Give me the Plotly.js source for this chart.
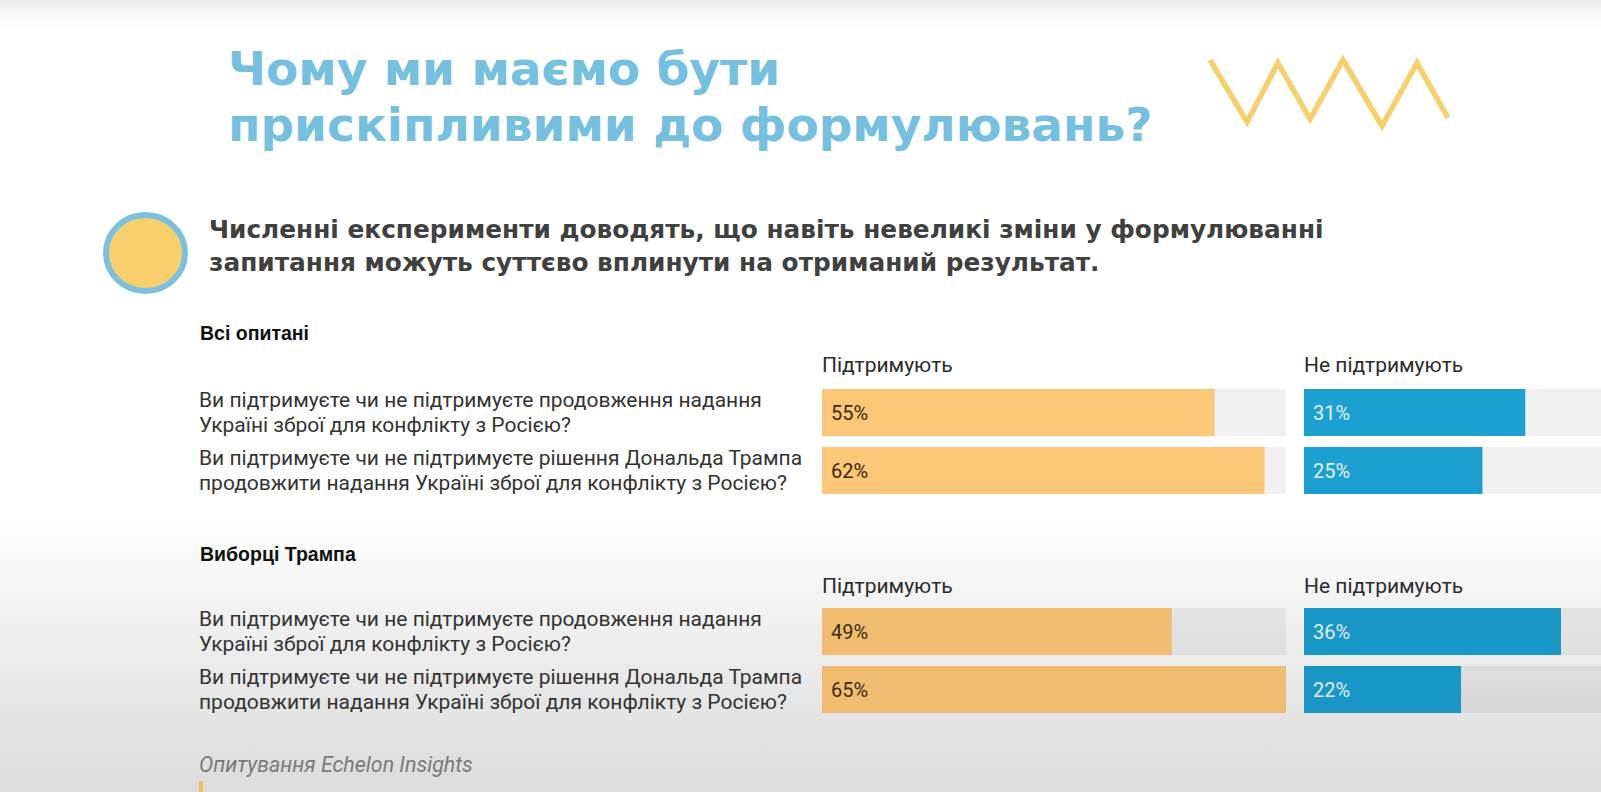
<!DOCTYPE html>
<html>
<head>
<meta charset="utf-8">
<script src="https://cdn.plot.ly/plotly-3.0.1.min.js"></script>
<style>
  html, body { margin: 0; padding: 0; }
  body {
    width: 1601px; height: 792px; overflow: hidden;
    background: linear-gradient(to bottom, #ececec 0px, #fbfbfb 18px, #ffffff 30px, #ffffff 520px, #f3f3f3 600px, #e6e6e6 700px, #dcdcdc 792px);
  }
  #chart { width: 1601px; height: 792px; }
</style>
</head>
<body>
<div id="chart"></div>
<script>
// ---------------- data ----------------
const titleLines = ['Чому ми маємо бути', 'прискіпливими до формулювань?'];
const subtitleLines = ['Численні експерименти доводять, що навіть невеликі зміни у формулюванні',
                       'запитання можуть суттєво вплинути на отриманий результат.'];
const groups = ['Всі опитані', 'Виборці Трампа'];
const seriesNames = ['Підтримують', 'Не підтримують'];
const questionKeys = ['q1', 'q2'];
const questionLines = [
  ['Ви підтримуєте чи не підтримуєте продовження надання', 'Україні зброї для конфлікту з Росією?'],
  ['Ви підтримуєте чи не підтримуєте рішення Дональда Трампа', 'продовжити надання Україні зброї для конфлікту з Росією?']
];
const supportAll = [55, 62];
const opposeAll = [31, 25];
const supportTrump = [49, 65];
const opposeTrump = [36, 22];
const sourceNote = 'Опитування Echelon Insights';

// ---------------- layout helpers ----------------
const W = 1601, H = 792;
const px = v => v / W;
const py = v => 1 - v / H;

const trackMax = Math.max(...supportAll, ...supportTrump, ...opposeAll, ...opposeTrump);
const pxPerPct = (1286 - 822) / trackMax;
const opposeRangeMax = (W - 1304) / pxPerPct;

const orange1 = '#fcc776', orange2 = '#f0bd70';
const blue1 = '#1ba0d1', blue2 = '#1896c6';
const trackColor = 'rgba(0,0,0,0.055)';

function track(xa, ya) {
  return { type: 'bar', orientation: 'h', x: questionKeys.map(() => trackMax), y: questionKeys,
           xaxis: xa, yaxis: ya, marker: { color: trackColor }, hoverinfo: 'skip', showlegend: false };
}
function valueBar(vals, xa, ya, color, name) {
  return { type: 'bar', orientation: 'h', x: vals, y: questionKeys, name: name,
           xaxis: xa, yaxis: ya, marker: { color: color }, hoverinfo: 'skip', showlegend: false };
}

const data = [
  track('x', 'y'),  valueBar(supportAll, 'x', 'y', orange1, seriesNames[0]),
  track('x2', 'y'), valueBar(opposeAll, 'x2', 'y', blue1, seriesNames[1]),
  track('x3', 'y2'), valueBar(supportTrump, 'x3', 'y2', orange2, seriesNames[0]),
  track('x4', 'y2'), valueBar(opposeTrump, 'x4', 'y2', blue2, seriesNames[1])
];

const hid = { visible: false, fixedrange: true };
const supDom = [px(822), px(1286)];
const oppDom = [px(1304), 1];

const annotations = [];
// title
const titleFont = { family: 'DejaVu Sans', size: 47, color: '#74c0de', weight: 700 };
annotations.push({ xref: 'paper', yref: 'paper', x: px(226), y: py(68), xanchor: 'left', yanchor: 'middle',
                   text: titleLines[0], showarrow: false, font: titleFont });
annotations.push({ xref: 'paper', yref: 'paper', x: px(226), y: py(124), xanchor: 'left', yanchor: 'middle',
                   text: titleLines[1], showarrow: false, font: titleFont });
// subtitle
const subFont = { family: 'DejaVu Sans', size: 24.8, color: '#404040', weight: 700 };
annotations.push({ xref: 'paper', yref: 'paper', x: px(207), y: py(229), xanchor: 'left', yanchor: 'middle',
                   text: subtitleLines[0], showarrow: false, font: subFont });
annotations.push({ xref: 'paper', yref: 'paper', x: px(207), y: py(262), xanchor: 'left', yanchor: 'middle',
                   text: subtitleLines[1], showarrow: false, font: subFont });

// groups
const groupCfg = [
  { name: groups[0], headerY: 333, colY: 365, ya: 'y', xs: ['x', 'x2'], sup: supportAll, opp: opposeAll, supTxt: '#3a2a10', oppTxt: '#e4f3fa' },
  { name: groups[1], headerY: 554, colY: 586, ya: 'y2', xs: ['x3', 'x4'], sup: supportTrump, opp: opposeTrump, supTxt: '#3a2a10', oppTxt: '#e0eff6' }
];
groupCfg.forEach(g => {
  annotations.push({ xref: 'paper', yref: 'paper', x: px(198), y: py(g.headerY), xanchor: 'left', yanchor: 'middle',
                     text: g.name, showarrow: false,
                     font: { family: 'Liberation Sans', size: 19.5, color: '#111', weight: 700 } });
  seriesNames.forEach((s, k) => {
    annotations.push({ xref: g.xs[k] + ' domain', yref: 'paper', x: 0, y: py(g.colY), xanchor: 'left', yanchor: 'middle',
                       xshift: -2, text: s, showarrow: false,
                       font: { family: 'Roboto', size: 21, color: '#2b2b2b' } });
  });
  questionKeys.forEach((q, i) => {
    questionLines[i].forEach((line, j) => {
      annotations.push({ xref: 'paper', yref: g.ya, x: px(197), y: q, xanchor: 'left', yanchor: 'middle', align: 'left',
                         yshift: j === 0 ? 12.5 : -12.5,
                         text: line, showarrow: false,
                         font: { family: 'Roboto', size: 21, color: '#333' } });
    });
    annotations.push({ xref: g.xs[0], yref: g.ya, x: 0, y: q, xanchor: 'left', yanchor: 'middle', xshift: 7,
                       text: g.sup[i] + '%', showarrow: false,
                       font: { family: 'Roboto', size: 20, color: g.supTxt } });
    annotations.push({ xref: g.xs[1], yref: g.ya, x: 0, y: q, xanchor: 'left', yanchor: 'middle', xshift: 7,
                       text: g.opp[i] + '%', showarrow: false,
                       font: { family: 'Roboto', size: 20, color: g.oppTxt } });
  });
});
// source
annotations.push({ xref: 'paper', yref: 'paper', x: px(197), y: py(764), xanchor: 'left', yanchor: 'middle',
                   text: sourceNote, showarrow: false,
                   font: { family: 'Roboto', size: 21.4, color: '#7a7a7a', style: 'italic' } });

// decorative shapes
const zig = [[1210,60],[1247,122],[1278,63],[1310,119],[1343,60],[1382,126],[1417,63],[1448,118]];
const zigPath = zig.map((p, i) => (i ? 'L' : 'M') + px(p[0]).toFixed(5) + ',' + py(p[1]).toFixed(5)).join(' ');
const shapes = [
  { type: 'circle', xref: 'paper', yref: 'paper', x0: px(106), x1: px(185), y0: py(291), y1: py(215),
    fillcolor: '#f7cf6c', line: { color: '#7cc0df', width: 6 } },
  { type: 'path', xref: 'paper', yref: 'paper', path: zigPath, line: { color: '#f5d06b', width: 5.5 } },
  { type: 'rect', xref: 'paper', yref: 'paper', x0: px(199), x1: px(203), y0: py(792), y1: py(781),
    fillcolor: '#e9c45c', line: { width: 0 } }
];

const layout = {
  width: W, height: H,
  margin: { l: 0, r: 0, t: 0, b: 0, pad: 0 },
  paper_bgcolor: 'rgba(0,0,0,0)', plot_bgcolor: 'rgba(0,0,0,0)',
  barmode: 'overlay', bargap: 0.19,
  showlegend: false,
  xaxis:  Object.assign({ domain: supDom, range: [0, trackMax], anchor: 'y' }, hid),
  xaxis2: Object.assign({ domain: oppDom, range: [0, opposeRangeMax], anchor: 'y' }, hid),
  xaxis3: Object.assign({ domain: supDom, range: [0, trackMax], anchor: 'y2' }, hid),
  xaxis4: Object.assign({ domain: oppDom, range: [0, opposeRangeMax], anchor: 'y2' }, hid),
  yaxis:  Object.assign({ domain: [py(499.5), py(383.5)], type: 'category', categoryorder: 'array', categoryarray: questionKeys, range: [1.5, -0.5] }, hid),
  yaxis2: Object.assign({ domain: [py(718.5), py(602.5)], type: 'category', categoryorder: 'array', categoryarray: questionKeys, range: [1.5, -0.5] }, hid),
  annotations: annotations,
  shapes: shapes
};

Plotly.newPlot('chart', data, layout, { staticPlot: true, displayModeBar: false });
</script>
</body>
</html>
